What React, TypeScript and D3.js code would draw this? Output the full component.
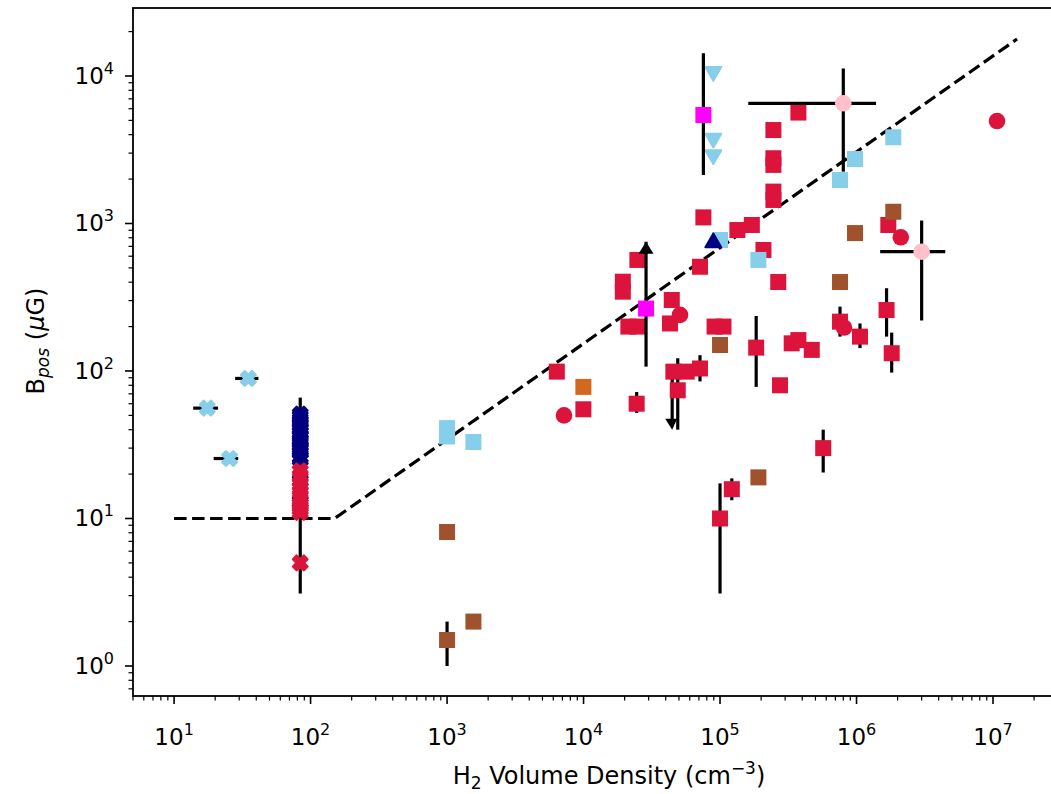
import React from 'react';
import * as d3 from 'd3';

const W = 1051, H = 794;
const M = { left: 133, right: 1051, top: 8, bottom: 696 };
const xDomain = [5, 2.66e7];
const yDomain = [0.626, 28900];

// dashed upper envelope (n_H2, B)
const envelopeN = [10, 150, 1.5e7];
const envelopeB = [10, 10, 17800];

// light-blue X markers with horizontal error bars: [n, B, nLo, nHi]
const skyXPts = [
  [17.5, 56, 13.8, 21],
  [25.5, 25.5, 19.5, 29.5],
  [35, 89, 28, 41.5],
];

// vertical column of X markers at n ~ 84
const columnN = 84;
const columnErr = [3.1, 66];
const navyXB = [51, 49, 47, 45, 43, 41, 40, 38, 36, 34, 33, 31, 30, 29, 28, 26, 25, 18, 13];
const redXB = [21, 19.5, 17, 16, 15, 14, 12.5, 12, 11.5, 11, 5];

// crimson squares: [n, B, BLo?, BHi?]
const redSq = [
  [6370, 99], [9970, 55], [24500, 60, 52, 72], [45500, 99], [57000, 99],
  [71300, 104, 85, 128], [49000, 74, 40, 122],
  [19400, 403], [19400, 345], [21300, 200], [24800, 200], [24800, 566],
  [44300, 303], [43000, 210], [71300, 509], [75500, 1100],
  [91200, 200], [106000, 200], [134000, 903], [171000, 977], [208000, 661],
  [246000, 4300], [246000, 2770], [246000, 2495], [246000, 1645], [246000, 1444],
  [375000, 5650], [267000, 401], [1710000, 977],
  [757000, 216, 171, 273], [1060000, 171, 143, 210], [1660000, 259, 171, 364],
  [1810000, 132, 97.5, 182], [184000, 144, 78, 236],
  [335000, 154], [375000, 162], [470000, 139], [275000, 80],
  [100000, 10, 3.1, 17.3], [122000, 15.8, 13.3, 18.7], [570000, 30, 20.5, 40],
];
// upper limits (down arrows): [n, Bfrom, Bto]
const downArrows = [[44600, 99, 40]];
const redCircles = [[7190, 50], [50900, 240], [810000, 197], [2110000, 806], [10700000, 4950]];
const brownSq = [
  [1000, 8.1], [1560, 2.0], [1000, 1.5, 1.0, 2.0], [100000, 150], [191000, 19],
  [1860000, 1201], [975000, 861], [757000, 401],
];
const orangeSq = [[9970, 78]];
const skySq = [
  [1000, 41], [1000, 36], [1560, 33], [100000, 773], [191000, 566],
  [757000, 1970], [975000, 2735], [1860000, 3840],
];
const skyTriDown = [[89300, 10700], [89300, 3780], [89300, 2920]];
const navyTriUp = [[89300, 741]];
// magenta squares: [n, B, BLo, BHi]
const magentaSq = [[75500, 5440, 2130, 14260], [28700, 265, 107, 752]];
// lower limits (up arrows): [n, Bfrom, Bto]
const upArrows = [[28700, 107, 752]];
// pink circles: [n, B, nLo, nHi, BLo, BHi]
const pinkCircles = [
  [800000, 6530, 161000, 1390000, 2245, 11250],
  [3000000, 644, 1490000, 4470000, 220, 1047],
];

const C = {
  red: '#DC143C', navy: '#000080', sky: '#87CEEB', brown: '#A0522D',
  orange: '#D2691E', magenta: '#FF00FF', pink: '#FFC0CB',
};

const FONT = 'DejaVu Sans, sans-serif';
const SQ = 16;
// matplotlib-style filled "X" marker
const XS = 14.5;
const xUnit = [
  [0.25, 0], [0.5, 0.25], [0.25, 0.5], [0, 0.25], [-0.25, 0.5], [-0.5, 0.25],
  [-0.25, 0], [-0.5, -0.25], [-0.25, -0.5], [0, -0.25], [0.25, -0.5], [0.5, -0.25],
];
const xPath = 'M' + xUnit.map(p => `${p[0] * XS},${p[1] * XS}`).join('L') + 'Z';
const triPath = d3.symbol(d3.symbolTriangle, 110)() as string;

function logTicks(d: number[]) {
  const lo = Math.floor(Math.log10(d[0]));
  const hi = Math.ceil(Math.log10(d[1]));
  const major: number[] = [], minor: number[] = [];
  for (let e = lo; e <= hi; e++) {
    for (let k = 1; k <= 9; k++) {
      const v = k * Math.pow(10, e);
      if (v < d[0] || v > d[1]) continue;
      if (k === 1) major.push(v); else minor.push(v);
    }
  }
  return { major, minor };
}

export default function App() {
  const x = d3.scaleLog().domain(xDomain).range([M.left, M.right]);
  const y = d3.scaleLog().domain(yDomain).range([M.bottom, M.top]);
  const xt = logTicks(xDomain);
  const yt = logTicks(yDomain);
  const line = d3.line<number>().x((_, i) => x(envelopeN[i])).y((_, i) => y(envelopeB[i]));
  const EW = 3.2;

  const vErr = (pts: number[][], key: string) =>
    pts.filter(p => p.length >= 4).map((p, i) => (
      <line key={key + i} x1={x(p[0])} x2={x(p[0])} y1={y(p[2])} y2={y(p[3])} stroke="#000" strokeWidth={EW} />
    ));
  const squares = (pts: number[][], color: string, key: string) =>
    pts.map((p, i) => (
      <rect key={key + i} x={x(p[0]) - SQ / 2} y={y(p[1]) - SQ / 2} width={SQ} height={SQ} fill={color} />
    ));
  const circles = (pts: number[][], color: string, key: string) =>
    pts.map((p, i) => <circle key={key + i} cx={x(p[0])} cy={y(p[1])} r={8.3} fill={color} />);
  const xMark = (px: number, py: number, color: string, key: string) => (
    <path key={key} d={xPath} transform={`translate(${px},${py})`} fill={color} stroke={color}
      strokeWidth={2.4} strokeLinejoin="round" />
  );

  return (
    <svg width={W} height={H} style={{ position: 'absolute', left: 0, top: 0, background: '#fff' }} fontFamily={FONT}>
      <rect x={0} y={0} width={W} height={H} fill="#fff" />
      <defs>
        <clipPath id="plot">
          <rect x={M.left} y={M.top} width={M.right - M.left + 10} height={M.bottom - M.top} />
        </clipPath>
      </defs>
      <g clipPath="url(#plot)">
        <path d={line(envelopeN) as string} fill="none" stroke="#000" strokeWidth={3.2} strokeDasharray="12.5,5.5" />

        {/* red squares */}
        {vErr(redSq, 'rse')}
        {downArrows.map((a, i) => {
          const px = x(a[0]), y0 = y(a[1]), y1 = y(a[2]);
          return (
            <g key={'da' + i}>
              <line x1={px} x2={px} y1={y0} y2={y1 - 8} stroke="#000" strokeWidth={EW} />
              <path d={`M${px - 7},${y1 - 11} L${px + 5},${y1 - 11} L${px},${y1} Z`} fill="#000" />
            </g>
          );
        })}
        {squares(redSq, C.red, 'rs')}
        {circles(redCircles, C.red, 'rc')}

        {vErr(brownSq, 'bse')}
        {squares(brownSq, C.brown, 'bs')}
        {squares(orangeSq, C.orange, 'os')}
        {squares(skySq, C.sky, 'ss')}
        {skyTriDown.map((p, i) => (
          <path key={'std' + i} d={triPath} transform={`translate(${x(p[0])},${y(p[1])}) rotate(180)`} fill={C.sky}
            stroke={C.sky} strokeWidth={2} strokeLinejoin="round" />
        ))}
        {navyTriUp.map((p, i) => (
          <path key={'ntu' + i} d={triPath} transform={`translate(${x(p[0])},${y(p[1])})`} fill={C.navy}
            stroke={C.navy} strokeWidth={2} strokeLinejoin="round" />
        ))}

        {vErr(magentaSq, 'mse')}
        {upArrows.map((a, i) => {
          const px = x(a[0]), y1 = y(a[2]);
          return (
            <path key={'ua' + i} d={`M${px - 7.5},${y1 + 12} L${px + 7.5},${y1 + 12} L${px},${y1} Z`} fill="#000" />
          );
        })}
        {squares(magentaSq, C.magenta, 'ms')}

        {pinkCircles.map((p, i) => (
          <g key={'pe' + i}>
            <line x1={x(p[2])} x2={x(p[3])} y1={y(p[1])} y2={y(p[1])} stroke="#000" strokeWidth={EW} />
            <line x1={x(p[0])} x2={x(p[0])} y1={y(p[4])} y2={y(p[5])} stroke="#000" strokeWidth={EW} />
          </g>
        ))}
        {circles(pinkCircles, C.pink, 'pc')}

        {/* X markers */}
        {skyXPts.map((p, i) => (
          <line key={'sxe' + i} x1={x(p[2])} x2={x(p[3])} y1={y(p[1])} y2={y(p[1])} stroke="#000" strokeWidth={EW} />
        ))}
        {skyXPts.map((p, i) => xMark(x(p[0]), y(p[1]), C.sky, 'sx' + i))}
        <line x1={x(columnN)} x2={x(columnN)} y1={y(columnErr[0])} y2={y(columnErr[1])} stroke="#000" strokeWidth={EW} />
        {navyXB.map((b, i) => xMark(x(columnN), y(b), C.navy, 'nx' + i))}
        {redXB.map((b, i) => xMark(x(columnN), y(b), C.red, 'rx' + i))}
      </g>

      {/* frame */}
      <rect x={M.left} y={M.top} width={M.right - M.left + 20} height={M.bottom - M.top} fill="none" stroke="#000" strokeWidth={1.8} />

      {/* x ticks */}
      {xt.major.map((v, i) => (
        <g key={'xM' + i}>
          <line x1={x(v)} x2={x(v)} y1={M.bottom} y2={M.bottom + 8} stroke="#000" strokeWidth={1.6} />
          <text x={x(v)} y={M.bottom + 49} textAnchor="middle" fontSize={23}>
            10<tspan dy={-10} fontSize={16}>{Math.round(Math.log10(v))}</tspan>
          </text>
        </g>
      ))}
      {xt.minor.map((v, i) => (
        <line key={'xm' + i} x1={x(v)} x2={x(v)} y1={M.bottom} y2={M.bottom + 4.5} stroke="#000" strokeWidth={1.2} />
      ))}
      {/* y ticks */}
      {yt.major.map((v, i) => (
        <g key={'yM' + i}>
          <line x1={M.left - 8} x2={M.left} y1={y(v)} y2={y(v)} stroke="#000" strokeWidth={1.6} />
          <text x={M.left - 19} y={y(v) + 8} textAnchor="end" fontSize={23}>
            10<tspan dy={-10} fontSize={16}>{Math.round(Math.log10(v))}</tspan>
          </text>
        </g>
      ))}
      {yt.minor.map((v, i) => (
        <line key={'ym' + i} x1={M.left - 4.5} x2={M.left} y1={y(v)} y2={y(v)} stroke="#000" strokeWidth={1.2} />
      ))}

      {/* axis labels */}
      <text x={(M.left + 1051) / 2 + 17} y={784} textAnchor="middle" fontSize={24}>
        H<tspan dy={5} fontSize={17}>2</tspan>
        <tspan dy={-5}> Volume Density (cm</tspan>
        <tspan dy={-10} fontSize={17}>−3</tspan>
        <tspan dy={10}>)</tspan>
      </text>
      <text transform={`translate(44,341) rotate(-90)`} textAnchor="middle" fontSize={24}>
        B<tspan dy={5} fontSize={17} fontStyle="italic">pos</tspan>
        <tspan dy={-5}> (</tspan>
        <tspan fontStyle="italic">μ</tspan>
        <tspan>G)</tspan>
      </text>
    </svg>
  );
}
